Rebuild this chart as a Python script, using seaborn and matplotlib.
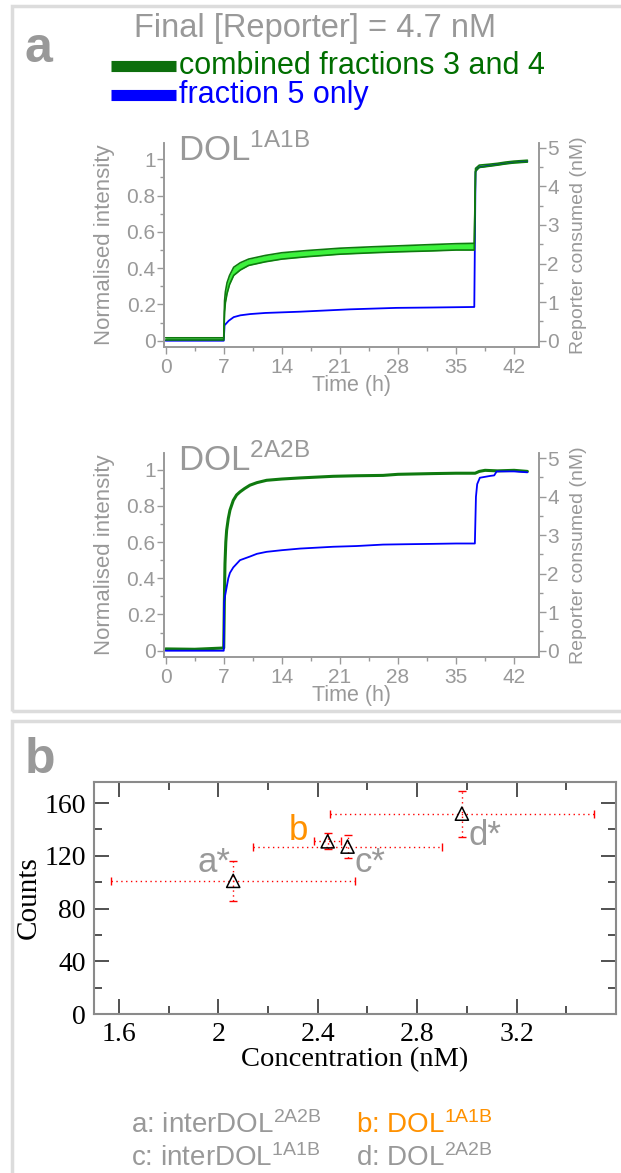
import matplotlib
matplotlib.use('Agg')
import matplotlib.pyplot as plt
import seaborn as sns
from matplotlib.ticker import MultipleLocator
from matplotlib.patches import Rectangle
from matplotlib.lines import Line2D

# ---- data ----
# panel a, top: DOL 1A1B
t_top_green = [0, 3.5, 7.0, 7.1, 7.2, 7.4, 7.7, 8.2, 9.0, 10, 12, 14, 17, 21, 25, 28, 32, 35, 37.2,
               37.35, 37.8, 39, 40, 41, 42, 43.6]
top_green_hi = [0.016, 0.016, 0.016, 0.22, 0.27, 0.32, 0.36, 0.405, 0.43, 0.45, 0.47, 0.485, 0.497,
                0.51, 0.518, 0.523, 0.53, 0.535, 0.537, 0.95, 0.968, 0.973, 0.978, 0.985, 0.99, 0.995]
top_green_lo = [0.004, 0.004, 0.004, 0.16, 0.21, 0.26, 0.31, 0.36, 0.39, 0.415, 0.435, 0.45, 0.463,
                0.477, 0.485, 0.49, 0.495, 0.5, 0.5, 0.935, 0.955, 0.962, 0.968, 0.975, 0.98, 0.985]
t_top_blue = [0, 7.0, 7.1, 7.3, 7.6, 8.2, 9, 10.2, 12, 16.2, 22.2, 27.8, 32, 37.2, 37.35, 37.6, 38.5,
              40, 42, 43.6]
top_blue = [0.0, 0.0, 0.085, 0.095, 0.11, 0.13, 0.14, 0.147, 0.153, 0.16, 0.173, 0.181, 0.183, 0.186,
            0.93, 0.955, 0.962, 0.972, 0.984, 0.99]

# panel a, bottom: DOL 2A2B
t_bot_green = [0, 3.5, 7.0, 7.1, 7.15, 7.25, 7.35, 7.55, 7.75, 8.15, 8.55, 8.96, 9.5, 10.16, 11,
               12.17, 14, 16.2, 20.2, 23, 26.2, 28, 32.2, 35, 37.3, 37.8, 38.5, 40, 42, 43.6]
bot_green = [0.01, 0.008, 0.015, 0.35, 0.48, 0.6, 0.665, 0.73, 0.776, 0.83, 0.86, 0.877, 0.895, 0.914,
             0.928, 0.941, 0.948, 0.954, 0.963, 0.966, 0.968, 0.974, 0.978, 0.98, 0.98,
             0.99, 0.996, 0.993, 0.996, 0.99]
t_bot_blue = [0, 7.0, 7.05, 7.15, 7.35, 7.55, 7.75, 8.15, 8.96, 10.16, 11, 12.17, 14, 16.2, 20.2, 23,
              26.2, 29, 32.2, 35, 37.27, 37.4, 37.55, 37.87, 39.1, 39.6, 39.9, 42, 43.6]
bot_blue = [0.0, 0.0, 0.27, 0.30, 0.35, 0.40, 0.43, 0.46, 0.50, 0.52, 0.535, 0.546, 0.555, 0.564,
            0.574, 0.578, 0.586, 0.588, 0.59, 0.592, 0.592, 0.85, 0.92, 0.955, 0.965, 0.968, 0.99,
            0.99, 0.985]

reporter_nM = 4.7

# panel b
labels_b = ['a*', 'b', 'c*', 'd*']
conc = [2.06, 2.44, 2.52, 2.98]
conc_err = [0.49, 0.055, 0.38, 0.53]
counts = [101, 131, 127, 152]
counts_err = [15, 6, 9, 17.5]
legend_b = [r'a: interDOL$^{\mathrm{2A2B}}$', r'b: DOL$^{\mathrm{1A1B}}$',
            r'c: interDOL$^{\mathrm{1A1B}}$', r'd: DOL$^{\mathrm{2A2B}}$']

# ---- style ----
sns.set_theme(style='white')
plt.rcParams['font.family'] = ['Liberation Sans', 'DejaVu Sans']
plt.rcParams['mathtext.fontset'] = 'custom'
plt.rcParams['mathtext.rm'] = 'Liberation Sans'
plt.rcParams['mathtext.it'] = 'Liberation Sans:italic'
plt.rcParams['mathtext.bf'] = 'Liberation Sans:bold'

GRAY = '#999999'
DKGREEN = '#0f7a0f'
TXTGREEN = '#006e00'
LTGREEN = '#3df23d'
BLUE = '#0000ff'
ORANGE = '#ff9100'
W, H = 621, 1173

fig = plt.figure(figsize=(W / 100, H / 100), dpi=100)

# panel frames
fig.add_artist(Rectangle((12 / W, 1 - 711 / H), 1.0, 705 / H, transform=fig.transFigure,
                         fill=False, edgecolor='#dcdcdc', lw=2.5))
fig.add_artist(Rectangle((12 / W, -0.05), 1.0, 1 - 721 / H + 0.05, transform=fig.transFigure,
                         fill=False, edgecolor='#dcdcdc', lw=2.5))

fig.text(25 / W, 1 - 62 / H, 'a', fontsize=36, fontweight='bold', color=GRAY, va='baseline')
fig.text(25 / W, 1 - 773 / H, 'b', fontsize=36, fontweight='bold', color=GRAY, va='baseline')

fig.text(315 / W, 1 - 37 / H, 'Final [Reporter] = 4.7 nM', fontsize=23.5, color=GRAY,
         ha='center', va='baseline')
for i, (lab, lc, tc) in enumerate([('combined fractions 3 and 4', '#0d6f0d', TXTGREEN),
                                   ('fraction 5 only', BLUE, BLUE)]):
    yc = 1 - (66 + 29 * i) / H
    fig.add_artist(Line2D([111 / W, 176 / W], [yc, yc], transform=fig.transFigure, color=lc, lw=8,
                          solid_capstyle='butt'))
    fig.text(179 / W, 1 - (74 + 29 * i) / H, lab, fontsize=22, color=tc, va='baseline')


def style_a(ax, title):
    axr = ax.twinx()
    ax.set_xlim(-0.2, 45)
    ylo, yhi = -0.033, 1.09
    ax.set_ylim(ylo, yhi)
    axr.set_ylim(ylo * reporter_nM, yhi * reporter_nM)
    ax.xaxis.set_major_locator(MultipleLocator(7))
    ax.xaxis.set_minor_locator(MultipleLocator(3.5))
    ax.set_yticks([0, 0.2, 0.4, 0.6, 0.8, 1.0])
    ax.set_yticklabels(['0', '0.2', '0.4', '0.6', '0.8', '1'])
    ax.yaxis.set_minor_locator(MultipleLocator(0.1))
    axr.set_yticks([0, 1, 2, 3, 4, 5])
    axr.yaxis.set_minor_locator(MultipleLocator(0.5))
    for a in (ax, axr):
        for s in a.spines.values():
            s.set_color(GRAY)
            s.set_linewidth(1.2)
        a.spines['top'].set_visible(False)
        a.tick_params(which='both', direction='out', color=GRAY, labelcolor=GRAY, width=1)
        a.tick_params(which='major', length=5, labelsize=15, pad=1)
        a.tick_params(which='minor', length=3)
    ax.tick_params(axis='x', which='both', bottom=True)
    ax.tick_params(axis='x', pad=3)
    ax.tick_params(axis='y', which='both', left=True)
    axr.tick_params(axis='y', which='both', right=True)
    ax.set_xlabel('Time (h)', fontsize=15.5, color=GRAY)
    ax.xaxis.set_label_coords(0.5, -0.14)
    ax.set_ylabel('Normalised intensity', fontsize=16, color=GRAY)
    ax.yaxis.set_label_coords(-0.131, 0.5)
    axr.set_ylabel('Reporter consumed (nM)', fontsize=14, color=GRAY)
    axr.yaxis.set_label_coords(1.083, 0.5)
    ax.text(0.037, 0.915, title, transform=ax.transAxes, fontsize=25, color=GRAY, va='baseline')
    return axr


ax1 = fig.add_axes([164 / W, 1 - 346.7 / H, 375 / W, 203.7 / H])
sns.lineplot(x=t_top_blue, y=top_blue, ax=ax1, color=BLUE, linewidth=1.3, estimator=None, sort=False)
ax1.fill_between(t_top_green, top_green_lo, top_green_hi, color=LTGREEN, lw=0)
sns.lineplot(x=t_top_green, y=top_green_hi, ax=ax1, color=DKGREEN, linewidth=1.2, estimator=None, sort=False)
sns.lineplot(x=t_top_green, y=top_green_lo, ax=ax1, color=DKGREEN, linewidth=1.2, estimator=None, sort=False)
style_a(ax1, r'DOL$^{\mathrm{1A1B}}$')

ax2 = fig.add_axes([164 / W, 1 - 656.7 / H, 375 / W, 203.4 / H])
sns.lineplot(x=t_bot_green, y=bot_green, ax=ax2, color=DKGREEN, linewidth=2.2, estimator=None, sort=False)
sns.lineplot(x=t_bot_blue, y=bot_blue, ax=ax2, color=BLUE, linewidth=1.3, estimator=None, sort=False)
style_a(ax2, r'DOL$^{\mathrm{2A2B}}$')

# ---- panel b ----
axb = fig.add_axes([94 / W, 1 - 1014 / H, 522 / W, 232 / H])
axb.errorbar(conc, counts, xerr=conc_err, yerr=counts_err, fmt='none', ecolor='red',
             elinewidth=1, capsize=3, linestyle=':')
for line in axb.collections:
    line.set_linestyle((0, (1, 2.5)))
sns.scatterplot(x=conc, y=counts, ax=axb, marker='^', s=90, facecolor='none', edgecolor='black',
                linewidth=1.1, zorder=5)
axb.set_xlim(1.5, 3.6)
axb.set_ylim(0, 176)
axb.set_xticks([1.6, 2.0, 2.4, 2.8, 3.2])
axb.set_xticklabels(['1.6', '2', '2.4', '2.8', '3.2'])
axb.xaxis.set_minor_locator(MultipleLocator(0.2))
axb.yaxis.set_major_locator(MultipleLocator(40))
axb.yaxis.set_minor_locator(MultipleLocator(20))
for s in axb.spines.values():
    s.set_color('#8a8a8a')
    s.set_linewidth(1.5)
axb.tick_params(which='both', direction='in', top=True, right=True, bottom=True, left=True,
                color='#333333', width=1.2)
axb.tick_params(which='major', length=11, labelsize=20, pad=6)
axb.tick_params(which='minor', length=6)
for lab in axb.get_xticklabels() + axb.get_yticklabels():
    lab.set_fontfamily('Liberation Serif')
    lab.set_color('black')
axb.set_xlabel('Concentration (nM)', fontsize=20.5, family='Liberation Serif', color='black', labelpad=0)
axb.set_ylabel('Counts', fontsize=21, family='Liberation Serif', color='black', labelpad=2)

ann_pos = [(2.047, 108, 'right', GRAY), (2.36, 132, 'right', ORANGE),
           (2.549, 108, 'left', GRAY), (3.008, 128, 'left', GRAY)]
for lab, (x, y, ha, c) in zip(labels_b, ann_pos):
    axb.text(x, y, lab, fontsize=25, color=c, ha=ha, va='baseline')

leg_xy = [(131, 1133), (356, 1133), (131, 1166), (356, 1166)]
for lab, (x, y), c in zip(legend_b, leg_xy, [GRAY, ORANGE, GRAY, GRAY]):
    fig.text(x / W, 1 - y / H, lab, fontsize=20, color=c, va='baseline')

fig.savefig('out.png', dpi=100)
